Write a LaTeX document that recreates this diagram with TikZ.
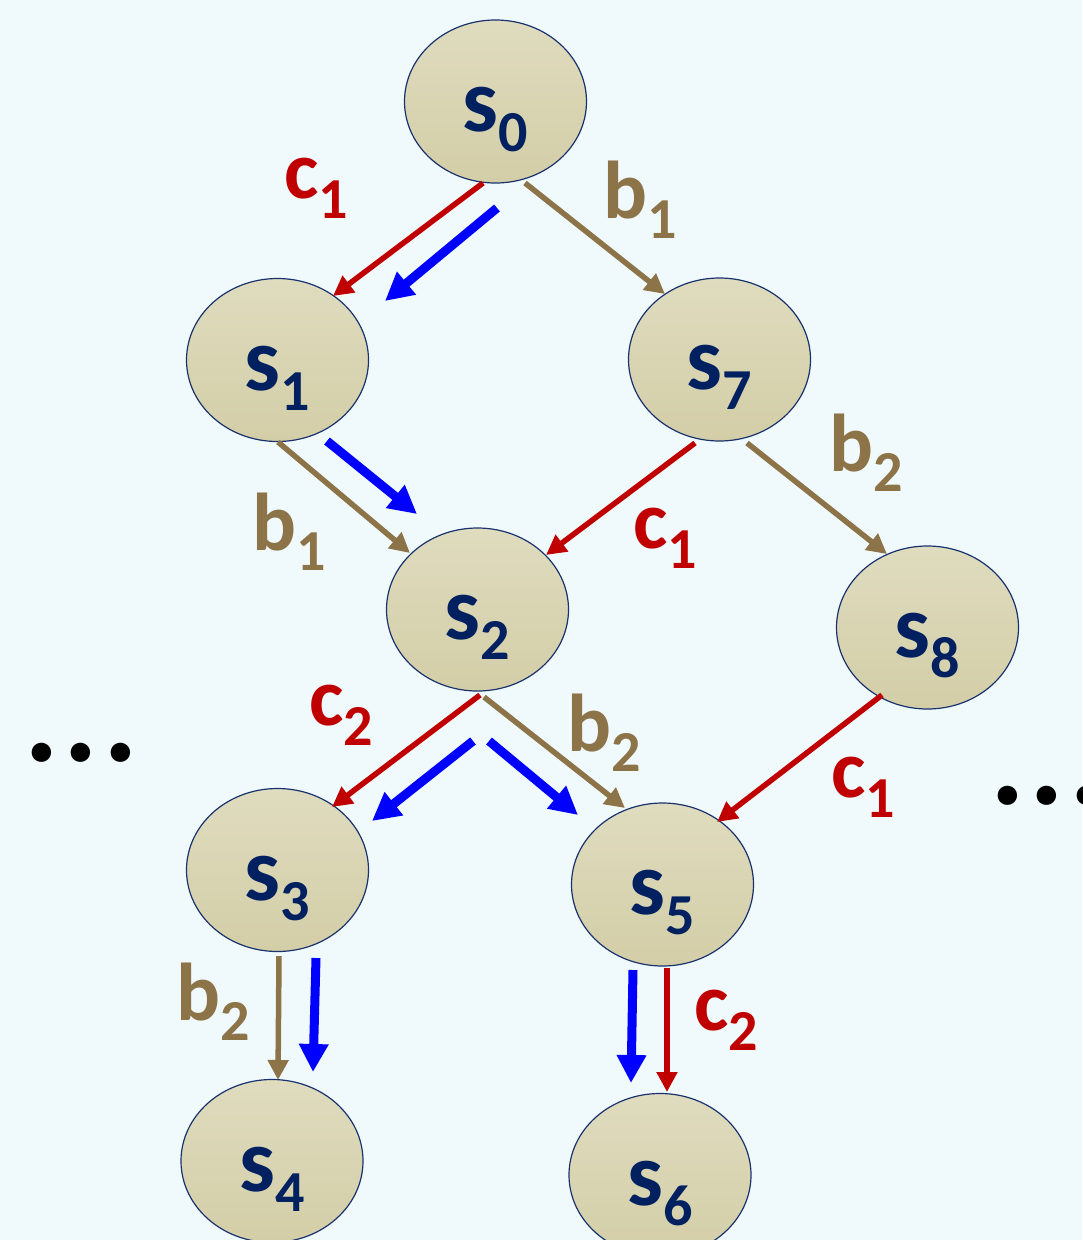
\documentclass[tikz,border=0pt]{standalone}
\usepackage{fontspec}
\setmainfont{Carlito}
\usetikzlibrary{shapes.geometric,arrows.meta,calc}
\definecolor{bgc}{RGB}{240,250,252}
\definecolor{redc}{RGB}{192,0,0}
\definecolor{brownc}{RGB}{140,115,72}
\definecolor{bluec}{RGB}{0,0,255}
\definecolor{navy}{RGB}{0,32,96}
\definecolor{rim}{RGB}{25,50,110}
\definecolor{filltop}{RGB}{223,220,191}
\definecolor{fillbot}{RGB}{211,206,167}
\newcommand{\stt}[1]{\raisebox{-30pt}[0pt][0pt]{\fontsize{90}{90}\selectfont\bfseries s\raisebox{-20pt}{\fontsize{58}{58}\selectfont #1}}}
\newcommand{\lbl}[2]{\fontsize{82}{82}\selectfont\bfseries #1\raisebox{-20pt}{\fontsize{58}{58}\selectfont #2}}
\tikzset{
  state/.style={ellipse, draw=rim, line width=1.2pt, top color=filltop, bottom color=fillbot,
    minimum width=182pt, minimum height=163pt, inner sep=0pt, text=navy},
  redarr/.style={draw=redc, line width=5.5pt, -{Triangle[width=20pt,length=20pt]}, fill=redc},
  brownarr/.style={draw=brownc, line width=5.5pt, -{Triangle[width=20pt,length=20pt]}, fill=brownc},
  bluearr/.style={draw=bluec, line width=9pt, -{Triangle[width=28pt,length=28pt]}, fill=bluec},
  redlbl/.style={text=redc, anchor=base west, inner sep=0pt},
  brownlbl/.style={text=brownc, anchor=base west, inner sep=0pt},
  dots/.style={anchor=base west, inner sep=0pt, text=black, font=\fontsize{130}{130}\selectfont\bfseries}
}
\begin{document}
\begin{tikzpicture}[x=1pt,y=-1pt]
\fill[bgc] (0,0) rectangle (1082,1240);
\useasboundingbox (0,0) rectangle (1082,1240);

\node[state] (s0) at (495.5,101.5) {\stt{0}};
\node[state] (s1) at (277.5,360) {\stt{1}};
\node[state] (s7) at (719.5,359.5) {\stt{7}};
\node[state] (s2) at (477.5,609.5) {\stt{2}};
\node[state] (s8) at (927.5,627.5) {\stt{8}};
\node[state] (s3) at (277.5,870) {\stt{3}};
\node[state] (s5) at (662.5,884.5) {\stt{5}};
\node[state] (s4) at (272,1161) {\stt{4}};
\node[state] (s6) at (660,1175) {\stt{6}};

% s0 -> s1, s7
\draw[redarr] ($(s0)+(-12.5,81.5)$) -- ($(s1)+(55.5,-64)$);
\draw[bluearr] ($(s0)+(1.5,106.5)$) -- ($(s1)+(107.5,-59)$);
\draw[brownarr] ($(s0)+(29.5,81.5)$) -- ($(s7)+(-54.5,-65.5)$);
% s1 -> s2
\draw[brownarr] ($(s1)+(0.5,82)$) -- ($(s2)+(-67.5,-56.5)$);
\draw[bluearr] ($(s1)+(49.5,81)$) -- ($(s2)+(-60.5,-95.5)$);
% s7 -> s2, s8
\draw[redarr] ($(s7)+(-24.5,83.5)$) -- ($(s2)+(68.5,-54.5)$);
\draw[brownarr] ($(s7)+(27.5,83.5)$) -- ($(s8)+(-40.5,-73.5)$);
% s2 -> s3, s5
\draw[redarr] ($(s2)+(2.5,85.5)$) -- ($(s3)+(54.5,-63)$);
\draw[bluearr] ($(s2)+(-4.5,131.5)$) -- ($(s3)+(94.5,-49)$);
\draw[bluearr] ($(s2)+(11.5,131.5)$) -- ($(s5)+(-84.5,-69.5)$);
\draw[brownarr] ($(s2)+(6.5,87.5)$) -- ($(s5)+(-37.5,-76.5)$);
% s8 -> s5
\draw[redarr] ($(s8)+(-45.5,67.5)$) -- ($(s5)+(54.5,-62.5)$);
% s3 -> s4
\draw[brownarr] ($(s3)+(1.5,86)$) -- ($(s4)+(6,-81)$);
\draw[bluearr] ($(s3)+(38.5,88)$) -- ($(s4)+(41,-89)$);
% s5 -> s6
\draw[bluearr] ($(s5)+(-29.5,85.5)$) -- ($(s6)+(-29,-92)$);
\draw[redarr] ($(s5)+(4.5,83.5)$) -- ($(s6)+(7,-83)$);

% labels
\node[redlbl] (l1) at (284,198) {\lbl{c}{1}};
\node[brownlbl] (l2) at (603,218) {\lbl{b}{1}};
\node[brownlbl] (l3) at (252,550) {\lbl{b}{1}};
\node[redlbl] (l4) at (633,548) {\lbl{c}{1}};
\node[brownlbl] (l5) at (829,471) {\lbl{b}{2}};
\node[redlbl] (l6) at (309,725) {\lbl{c}{2}};
\node[brownlbl] (l7) at (567,751) {\lbl{b}{2}};
\node[redlbl] (l8) at (831,797) {\lbl{c}{1}};
\node[brownlbl] (l9) at (176,1020) {\lbl{b}{2}};
\node[redlbl] (l10) at (694,1030) {\lbl{c}{2}};

% ellipsis dots
\node[dots] (dl) at (24,761) {.\kern5pt.\kern5pt.};
\node[dots] (dr) at (990,804) {.\kern5pt.\kern5pt.};
\end{tikzpicture}
\end{document}
